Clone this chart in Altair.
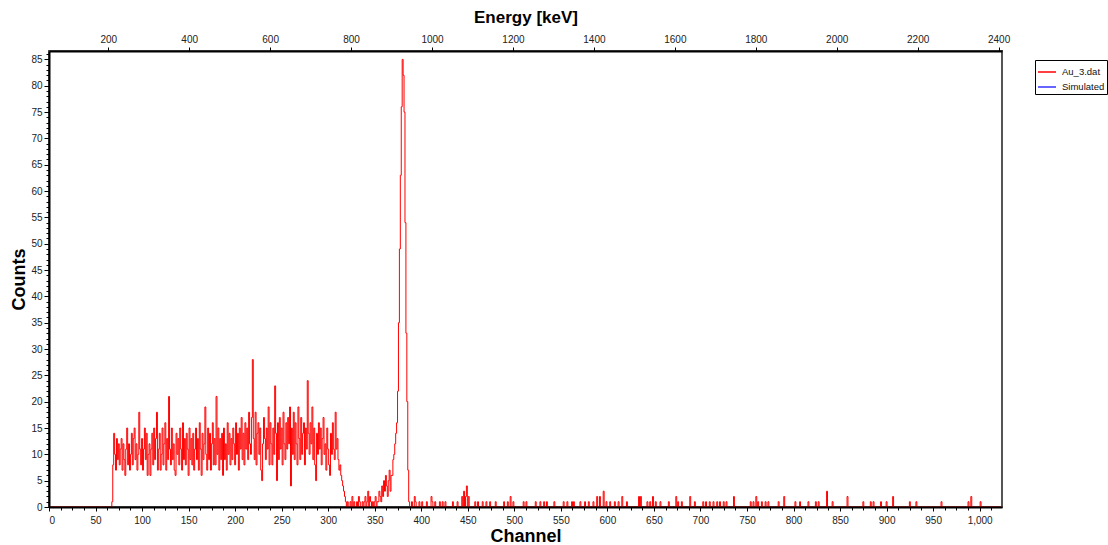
import altair as alt
import pandas as pd

# ---- data ----
n_channels = 1024

# continuum, channels 68 .. 320
continuum_start = 68
continuum_counts = [
    1,
    8, 14, 10, 7, 13, 9, 12, 8, 11, 13,
    7, 12, 9, 6, 11, 15, 8, 12, 7, 10,
    14, 8, 13, 15, 9, 12, 7, 10, 18, 11,
    8, 13, 7, 11, 15, 9, 14, 6, 10, 12,
    6, 11, 14, 8, 15, 9, 13, 18, 7, 11,
    14, 7, 10, 15, 8, 12, 16, 7, 13, 9,
    21, 11, 8, 15, 9, 12, 7, 6, 14, 10,
    13, 8, 15, 11, 7, 16, 9, 13, 8, 14,
    11, 6, 15, 9, 13, 8, 14, 7, 11, 15,
    9, 13, 7, 16, 11, 6, 14, 9, 12, 19,
    10, 7, 15, 9, 14, 7, 12, 16, 8, 13,
    8, 21, 10, 15, 7, 13, 9, 14, 6, 15,
    9, 12, 7, 16, 10, 14, 8, 13, 9, 15,
    12, 8, 16, 10, 14, 7, 15, 11, 17, 9,
    14, 8, 16, 11, 15, 9, 18, 12, 10, 17,
    28, 13, 9, 18, 8, 14, 16, 10, 15, 7,
    5, 12, 17, 13, 9, 15, 11, 19, 8, 16,
    12, 8, 15, 10, 23, 14, 5, 16, 9, 17,
    11, 15, 8, 18, 12, 9, 16, 11, 17, 12,
    19, 4, 15, 10, 18, 9, 16, 12, 8, 19,
    13, 9, 17, 10, 14, 16, 8, 15, 11, 24,
    14, 10, 16, 12, 19, 9, 15, 8, 5, 14,
    10, 16, 11, 15, 8, 13, 17, 10, 12, 7,
    15, 11, 8, 6, 14, 10, 16, 11, 9, 18,
    11, 13, 9, 7, 8, 6, 5, 4, 3, 2,
    1, 0,
]

# valley and photopeak, channels 321 .. 389
peak_start = 321
peak_counts = [
    1, 0, 0, 1, 0, 2, 0, 1, 0, 0,
    1, 0, 2, 1, 0, 0, 1, 0, 1, 2,
    0, 1, 3, 0, 2, 1, 0, 1, 0, 1,
    2, 0, 1, 1, 3, 2, 1, 4, 2, 5,
    3, 6, 4, 2, 5, 7, 3, 6, 6, 9,
    10, 12, 14, 16, 22, 35, 49, 63, 76, 85,
    82, 75, 54, 33, 20, 7, 1, 0, 0,
]

# sparse counts above the peak
tail_channels = [
    390, 393, 394, 398, 401, 406, 411, 412, 415, 420, 423, 426, 434, 439,
    444, 446, 448, 449, 451, 458, 461, 466, 470, 474, 480, 489, 493, 496,
    499, 510, 513, 523, 528, 532, 535, 543, 553, 557, 562, 564, 571, 576,
    580, 585, 589, 592, 596, 599, 603, 608, 612, 616, 621, 634, 636, 643,
    646, 649, 652, 657, 666, 674, 676, 680, 689, 694, 703, 706, 710, 714,
    718, 721, 725, 728, 736, 754, 757, 760, 762, 766, 770, 773, 784, 790,
    802, 807, 816, 824, 827, 836, 842, 858, 875, 883, 886, 894, 900, 907,
    925, 932, 959, 988, 991, 1001,
]
tail_counts = [
    1, 2, 1, 1, 1, 1, 2, 1, 1, 1, 1, 1, 1, 1,
    2, 3, 2, 4, 2, 1, 1, 1, 1, 1, 1, 1, 1, 2,
    1, 1, 1, 1, 1, 1, 1, 1, 1, 1, 1, 1, 1, 1,
    1, 1, 2, 2, 3, 1, 1, 1, 1, 2, 1, 2, 2, 1,
    1, 2, 1, 1, 1, 2, 1, 1, 2, 1, 1, 1, 1, 1,
    1, 1, 1, 1, 2, 1, 1, 2, 1, 1, 1, 1, 1, 2,
    1, 1, 1, 1, 1, 3, 1, 2, 1, 1, 1, 1, 1, 2,
    1, 1, 1, 1, 2, 1,
]

series_names = ["Au_3.dat", "Simulated"]
series_colors = ["#ff0000", "#3333ff"]

x_major = list(range(0, 1001, 50))
x_minor = [i * 12.5 for i in range(0, 82)]
y_major = list(range(0, 86, 5))
y_minor = list(range(0, 87))
energy_ticks = list(range(200, 2401, 200))
energy_range = [53.6, 2408.4]

# ---- build the table ----
counts = [0] * n_channels
for i, c in enumerate(continuum_counts):
    counts[continuum_start + i] = c
for i, c in enumerate(peak_counts):
    counts[peak_start + i] = c
for ch, c in zip(tail_channels, tail_counts):
    counts[ch] = c

df = pd.DataFrame({
    "Channel": list(range(n_channels)),
    "Counts": counts,
    "Series": ["Au_3.dat"] * n_channels,
})
minor_df = pd.DataFrame({"Channel": [0, 1024], "Counts": [0, 86.6]})
energy_df = pd.DataFrame({"Energy": energy_range})

FONT = "Liberation Sans"
x_scale = alt.Scale(domain=[0, 1024], nice=False, zero=False)
y_scale = alt.Scale(domain=[0, 86.6], nice=False, zero=True)

line = alt.Chart(df).mark_line(interpolate="step", strokeWidth=1).encode(
    x=alt.X("Channel:Q", scale=x_scale,
            axis=alt.Axis(values=x_major, title="Channel", orient="bottom",
                          tickSize=4, labelPadding=4, titlePadding=2, zindex=2)),
    y=alt.Y("Counts:Q", scale=y_scale,
            axis=alt.Axis(values=y_major, title="Counts", orient="left",
                          tickSize=5, labelPadding=2, titlePadding=2, zindex=2)),
    color=alt.Color("Series:N",
                    scale=alt.Scale(domain=series_names, range=series_colors),
                    legend=alt.Legend(title=None, orient="none", legendX=986,
                                      legendY=9, symbolType="stroke",
                                      symbolSize=324, symbolStrokeWidth=1.5,
                                      labelFontSize=9.5, labelFont=FONT,
                                      labelColor="#111", strokeColor="#000",
                                      fillColor="#fff", padding=2,
                                      rowPadding=-6, labelOffset=5)),
)

minor = alt.Chart(minor_df).mark_point(opacity=0).encode(
    x=alt.X("Channel:Q", scale=x_scale,
            axis=alt.Axis(values=x_minor, labels=False, title=None,
                          orient="bottom", tickSize=3, domain=False, zindex=2)),
    y=alt.Y("Counts:Q", scale=y_scale,
            axis=alt.Axis(values=y_minor, labels=False, title=None,
                          orient="left", tickSize=3, domain=False, zindex=2)),
)

energy = alt.Chart(energy_df).mark_point(opacity=0).encode(
    x=alt.X("Energy:Q",
            scale=alt.Scale(domain=energy_range, nice=False, zero=False),
            axis=alt.Axis(values=energy_ticks, format="d", title="Energy [keV]",
                          orient="top", tickSize=4, labelPadding=3,
                          titlePadding=8, titleFontSize=17, zindex=2)),
)

chart = alt.layer(line, minor, energy).resolve_scale(
    x="independent", y="independent"
).properties(
    width=953, height=456,
    autosize=alt.AutoSizeParams(type="none"),
    padding={"left": 49, "top": 51, "right": 106, "bottom": 38},
    background="white",
).configure_view(
    stroke="#555", strokeWidth=2
).configure_axis(
    labelFont=FONT, labelFontSize=10, labelColor="#222",
    titleFont=FONT, titleFontSize=18, titleFontWeight="bold", titleColor="#000",
    tickColor="#000", domainColor="#000", domainWidth=2, grid=False,
)

chart.save("out.html", embed_options={"renderer": "svg", "actions": False})
